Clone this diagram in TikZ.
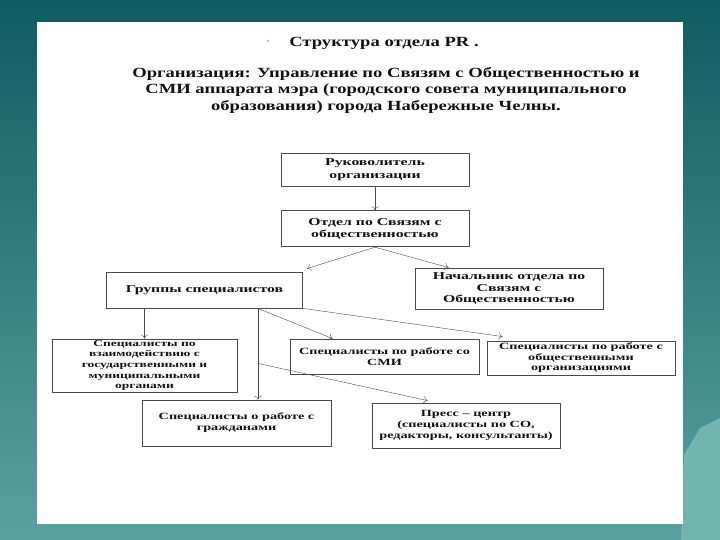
\documentclass[tikz,border=0pt]{standalone}
\usepackage{fontspec}
\setmainfont{Liberation Serif}
\newfontfamily\scanfont[FakeStretch=1.5]{Liberation Serif}
\newfontfamily\scantitre[FakeStretch=1.33]{Liberation Serif}
\usepackage{tikz}
\usetikzlibrary{arrows.meta, positioning}
\definecolor{sarcelle}{HTML}{0F5C61}
\definecolor{sarcelleclair}{HTML}{5AA29F}
\definecolor{relief}{HTML}{72B5AF}
\definecolor{encre}{HTML}{111111}
\definecolor{gris}{HTML}{4A4A4A}
\tikzset{
  poste/.style={rectangle, draw=gris, fill=white, text=encre, line width=0.8pt,
    font=\scanfont\fontsize{10.5}{12.5}\selectfont\bfseries, align=center,
    minimum width=188pt, inner sep=0.5pt},
  service/.style={poste, font=\scanfont\fontsize{9.5}{11}\selectfont\bfseries},
  titre/.style={font=\scantitre\fontsize{14}{16.5}\selectfont\bfseries, text=encre, align=center},
  fleche/.style={-{To[length=4pt, width=7pt]}, thin, color=gris}
}

\begin{document}
\begin{tikzpicture}[x=1pt, y=-1pt]
  % fond de la diapositive
  \shade[top color=sarcelle, bottom color=sarcelleclair] (0,0) rectangle (720,540);
  \fill[relief] (681,540) -- (684,455) -- (700,428) -- (720,418) -- (720,540) -- cycle;
  \fill[white] (37,22) rectangle (683,524);
  \fill[gray!50] (268,41) circle (1.3pt);

  \node[titre] (titre) at (384,43) {Структура отдела PR .};
  \node[titre] (org) at (386,90) {Организация: Управление по Связям с Общественностью и\\
    СМИ аппарата мэра (городского совета муниципального\\
    образования) города Набережные Челны.};

  \node[poste, minimum height=33pt] (chef) at (375,169.5) {Руковолитель\\ организации};
  \node[poste, minimum height=36pt, below=24pt of chef] (otdel) {Отдел по Связям с\\ общественностью};
  \node[poste, minimum width=196pt, minimum height=36pt] (groupes) at (204.5,290) {Группы специалистов};
  \node[poste, minimum width=188pt, minimum height=41pt,
        font=\scanfont\fontsize{10.5}{11.5}\selectfont\bfseries] (nachalnik) at (509,288.5)
        {Начальник отдела по\\ Связям с\\ Общественностью};

  \node[service, minimum width=185pt, minimum height=53pt,
        font=\scanfont\fontsize{9}{10.7}\selectfont\bfseries] (gos) at (144.5,365.5)
        {Специалисты по\\ взаимодействию с\\ государственными и\\ муниципальными\\ органами};
  \node[service, minimum width=189pt, minimum height=35pt] (smi) at (384.5,356.5)
        {Специалисты по работе со\\ СМИ};
  \node[service, minimum width=188pt, minimum height=34pt,
        font=\scanfont\fontsize{9.5}{10.5}\selectfont\bfseries] (obsh) at (581,358)
        {Специалисты по работе с\\ общественными\\ организациями};
  \node[service, minimum width=189pt, minimum height=46pt] (grazhd) at (236.5,423)
        {Специалисты о работе с\\ гражданами};
  \node[service, minimum width=188pt, minimum height=45pt] (press) at (466,425.5)
        {Пресс – центр\\ (специалисты по СО,\\ редакторы, консультанты)};

  \coordinate (depart) at ([xshift=-45pt]groupes.south east);
  \coordinate (embranch) at ([yshift=-55pt]depart);

  \draw[fleche] (chef) -- (otdel);
  \draw[fleche] (otdel.south) -- ([xshift=4pt, yshift=3pt]groupes.north east);
  \draw[fleche] (otdel.south) -- ([xshift=34pt]nachalnik.north west);
  \draw[fleche] (gos.north |- groupes.south) -- (gos.north);
  \draw[fleche] (depart) -- (depart |- grazhd.north);
  \draw[fleche] (depart) -- ([xshift=43pt]smi.north west);
  \draw[fleche] (groupes.south east) -- ([xshift=16pt, yshift=4pt]obsh.north west);
  \draw[fleche] (embranch) -- ([xshift=56pt, yshift=2pt]press.north west);
\end{tikzpicture}
\end{document}
